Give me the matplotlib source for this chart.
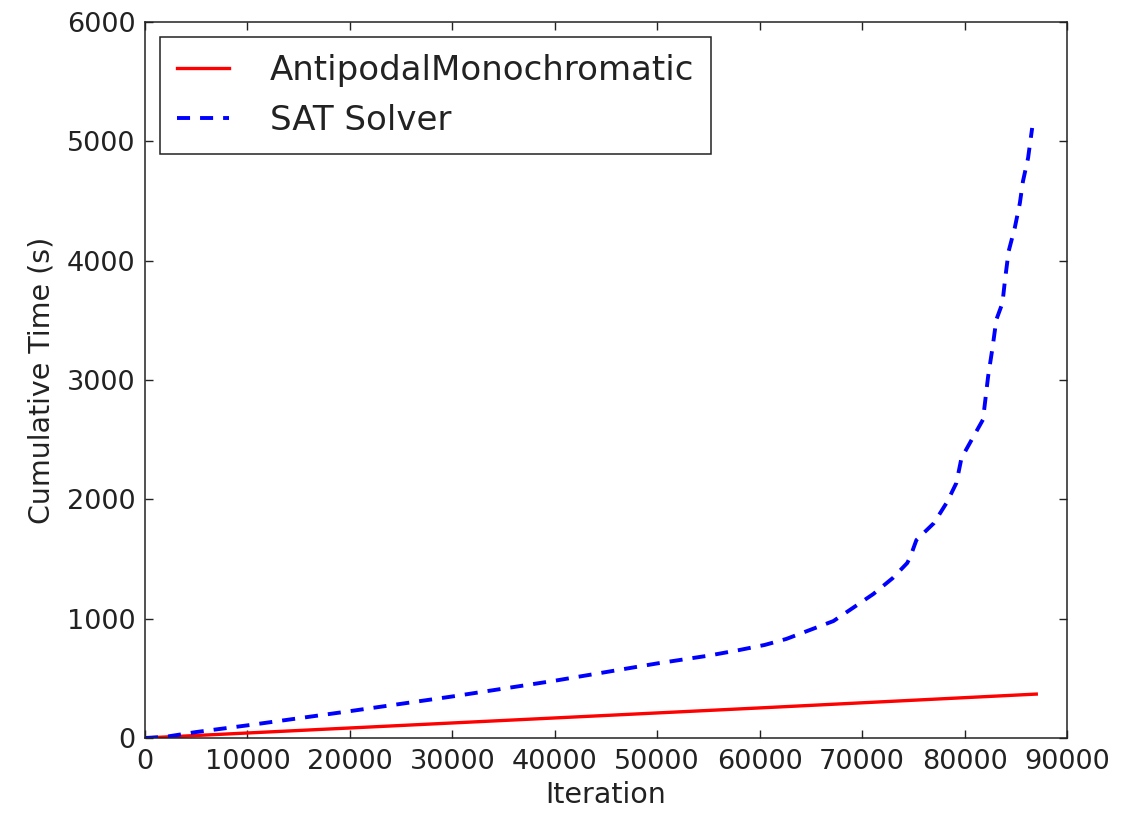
import matplotlib
matplotlib.use("Agg")
import matplotlib.pyplot as plt

# Data
anti_x = [0, 10000, 20000, 30000, 40000, 50000, 60000, 70000, 80000, 87000]
anti_y = [0, 42, 84, 126, 168, 210, 252, 295, 338, 368]

sat_x = [0, 2000, 5000, 10000, 20000, 30000, 40000, 50000, 55000, 58000,
         60500, 62600, 64900, 67200, 69100, 71100, 73000, 74400, 74700,
         75300, 77000, 78300, 79200, 79700, 80700, 81800, 82300, 82750,
         83100, 83700, 83950, 84300, 84900, 85400, 85700, 86200, 86600]
sat_y = [0, 10, 50, 106, 225, 348, 480, 625, 690, 737,
         780, 830, 905, 980, 1090, 1207, 1341, 1466, 1517,
         1659, 1800, 1978, 2137, 2346, 2500, 2668, 3030, 3282,
         3505, 3645, 3840, 4078, 4274, 4483, 4665, 4860, 5112]

x_ticks = [0, 10000, 20000, 30000, 40000, 50000, 60000, 70000, 80000, 90000]
y_ticks = [0, 1000, 2000, 3000, 4000, 5000, 6000]

plt.rcParams['font.family'] = ['DejaVu Sans']
plt.rcParams['lines.scale_dashes'] = False

fig = plt.figure(figsize=(11.43, 8.15), dpi=100)
ax = fig.add_axes([145/1143, 1 - 738/815, (1067-145)/1143, (738-22)/815])

ax.plot(anti_x, anti_y, color='#ff0000', lw=2.4, label='AntipodalMonochromatic')
ax.plot(sat_x, sat_y, color='#0000ff', lw=2.8, linestyle=(0, (9.4, 7.2)),
        label='SAT Solver')

ax.set_xlim(0, 90000)
ax.set_ylim(0, 6000)
ax.set_xticks(x_ticks)
ax.set_yticks(y_ticks)
ax.set_xticklabels([str(v) for v in x_ticks])
ax.set_yticklabels([str(v) for v in y_ticks])

ax.tick_params(direction='in', top=True, right=True, length=6, width=1.0,
               labelsize=19.5, colors='#222222', labelcolor='#222222')
ax.tick_params(axis='x', pad=8)
ax.tick_params(axis='y', pad=7)
for s in ax.spines.values():
    s.set_linewidth(1.1)
    s.set_color('#222222')

ax.set_xlabel('Iteration', fontsize=20.5, color='#222222', labelpad=4)
ax.set_ylabel('Cumulative Time (s)', fontsize=20.5, color='#222222', labelpad=8)

leg = ax.legend(loc='upper left', fontsize=24.5, handlelength=1.53,
                handletextpad=1.2, borderpad=0.5, labelspacing=0.5,
                borderaxespad=0.44, fancybox=False, framealpha=1.0,
                edgecolor='#222222')
leg.get_frame().set_linewidth(1.1)
for t in leg.get_texts():
    t.set_color('#222222')

fig.savefig('out.png', dpi=100)
